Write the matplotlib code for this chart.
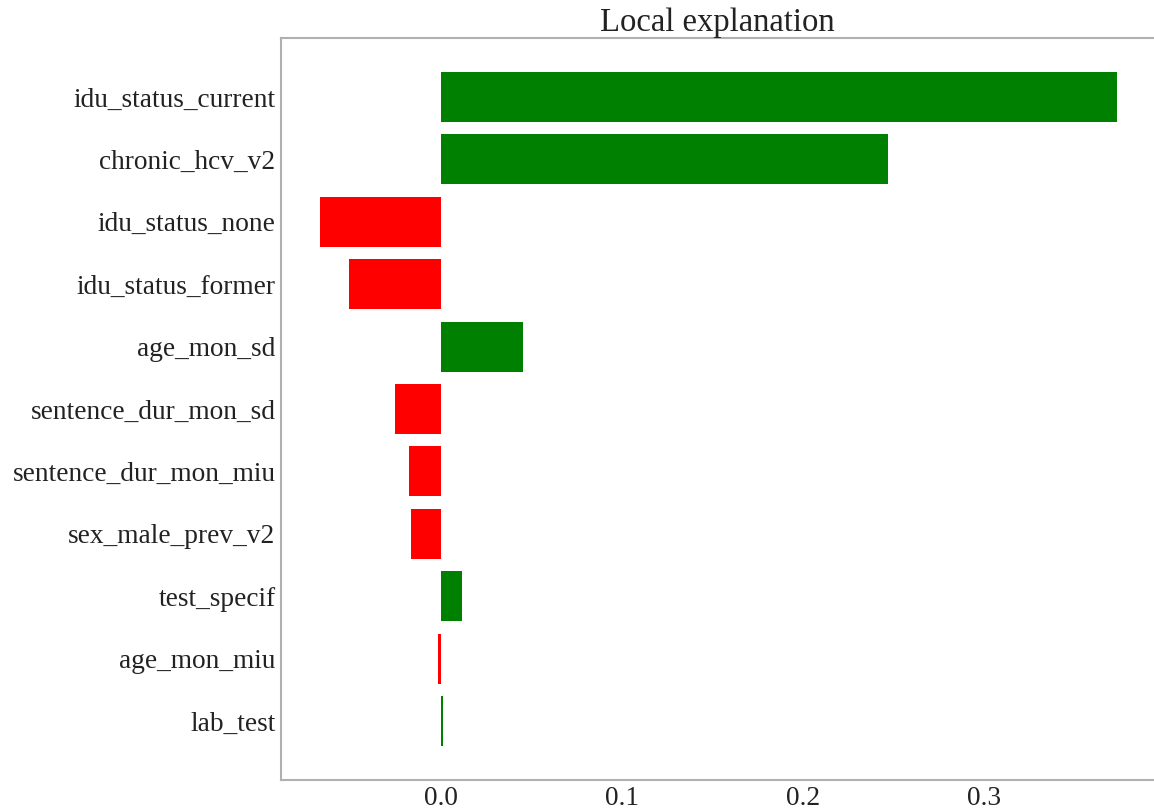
import numpy as np
import matplotlib.pyplot as plt

features = ['idu_status_current', 'chronic_hcv_v2', 'idu_status_none',
            'idu_status_former', 'age_mon_sd', 'sentence_dur_mon_sd',
            'sentence_dur_mon_miu', 'sex_male_prev_v2', 'test_specif',
            'age_mon_miu', 'lab_test']
weights = [0.3735, 0.247, -0.0669, -0.0508, 0.0453, -0.0254,
           -0.0177, -0.0166, 0.0116, -0.0016, 0.001]
xticks = [0.0, 0.1, 0.2, 0.3]

plt.rcParams['font.family'] = 'Liberation Serif'

fig = plt.figure(figsize=(11.54, 8.10), dpi=100)
ax = fig.add_axes([0.2435, 0.037, 0.7565, 0.916])

# lime style: smallest weight at the bottom
vals = weights[::-1]
names = features[::-1]
pos = np.arange(len(vals))
colors = ['green' if v > 0 else 'red' for v in vals]
ax.barh(pos, vals, height=0.8, color=colors, align='center')

ax.set_yticks(pos)
ax.set_yticklabels(names, fontsize=19.7, color='#222222')
ax.set_xticks(xticks)
ax.set_xticklabels(['%.1f' % t for t in xticks], fontsize=19.7, color='#222222')
ax.set_xlim(-0.0884, 0.394)
ax.set_ylim(-0.945, 10.945)
ax.tick_params(axis='y', length=0, pad=4)
ax.tick_params(axis='x', length=0, pad=4)
ax.set_title('Local explanation', fontsize=23.5, pad=1, color='#222222')

for s in ['left', 'top', 'bottom']:
    ax.spines[s].set_color('#b0b0b0')
    ax.spines[s].set_linewidth(1.5)
ax.spines['right'].set_visible(False)

plt.savefig('out.png', dpi=100)
